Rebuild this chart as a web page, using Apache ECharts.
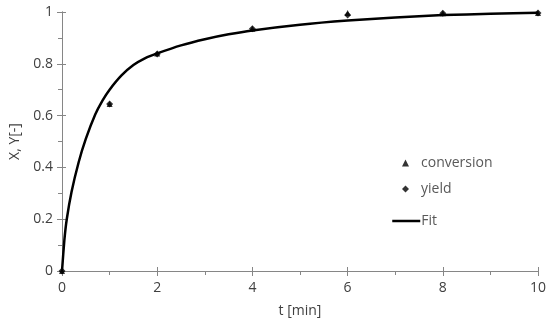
<!DOCTYPE html>
<html>
<head>
<meta charset="utf-8">
<script src="https://cdn.jsdelivr.net/npm/echarts@6/dist/echarts.min.js"></script>
<style>html,body{margin:0;padding:0;background:#fff}#c{width:550px;height:323px}</style>
</head>
<body>
<div id="c"></div>
<script>
const tData = [0, 1, 2, 4, 6, 8, 10];
const conversion = [0, 0.645, 0.84, 0.935, 0.996, 0.995, 0.996];
const yieldVals = [0, 0.645, 0.838, 0.935, 0.988, 0.995, 0.996];
const fitT = [0, 0.05, 0.1, 0.2, 0.35, 0.5, 0.7, 0.85, 1.0, 1.25, 1.5, 1.75, 2, 2.5, 3, 3.5, 4, 5, 6, 7, 8, 9, 10];
const fitY = [0, 0.12, 0.2, 0.305, 0.42, 0.51, 0.605, 0.658, 0.70, 0.755, 0.795, 0.822, 0.84, 0.871, 0.895, 0.914, 0.929, 0.951, 0.967, 0.979, 0.988, 0.993, 0.997];

const FONT = 'Open Sans';
const chart = echarts.init(document.getElementById('c'));
const axisLine = {show: true, lineStyle: {color: '#868686', width: 1}};
const xBase = {type: 'value', min: 0, max: 10, interval: 2, splitLine: {show: false}, axisLine: axisLine};
const yBase = {type: 'value', min: 0, max: 1, interval: 0.2, splitLine: {show: false}, axisLine: axisLine};
chart.setOption({
  animation: false,
  grid: {left: 62, right: 12, top: 12, bottom: 45},
  xAxis: [
    Object.assign({}, xBase, {
      name: 't [min]', nameLocation: 'middle', nameGap: 33,
      nameTextStyle: {fontFamily: FONT, fontSize: 14, color: '#404040'},
      axisTick: {show: true, length: 5, lineStyle: {color: '#868686'}},
      minorTick: {show: true, splitNumber: 2, length: 4, lineStyle: {color: '#868686'}},
      axisLabel: {fontFamily: FONT, fontSize: 14, color: '#404040', margin: 10}
    }),
    Object.assign({}, xBase, {
      position: 'bottom',
      axisTick: {show: true, inside: true, length: 4, lineStyle: {color: '#868686'}},
      axisLabel: {show: false}
    })
  ],
  yAxis: [
    Object.assign({}, yBase, {
      name: 'X, Y[-]', nameLocation: 'middle', nameGap: 38,
      nameTextStyle: {fontFamily: FONT, fontSize: 14, color: '#404040'},
      axisTick: {show: true, length: 5, lineStyle: {color: '#868686'}},
      minorTick: {show: true, splitNumber: 2, length: 4, lineStyle: {color: '#868686'}},
      axisLabel: {fontFamily: FONT, fontSize: 14, color: '#404040', margin: 9}
    }),
    Object.assign({}, yBase, {
      position: 'left',
      axisTick: {show: true, inside: true, length: 4, lineStyle: {color: '#868686'}},
      axisLabel: {show: false}
    })
  ],
  legend: [
    {
      data: ['conversion', 'yield'], orient: 'vertical', left: 397, top: 151,
      itemWidth: 7, itemHeight: 7, itemGap: 12,
      textStyle: {fontFamily: FONT, fontSize: 14, color: '#595959', padding: [0, 0, 0, 7]}
    },
    {
      data: ['Fit'], orient: 'vertical', left: 386, top: 209,
      itemWidth: 28, itemHeight: 14,
      itemStyle: {opacity: 0},
      lineStyle: {color: '#000', width: 2.5},
      textStyle: {fontFamily: FONT, fontSize: 14, color: '#595959', padding: [0, 0, 0, -4]}
    }
  ],
  series: [
    {
      name: 'Fit', type: 'line', smooth: 0.2, showSymbol: false, symbol: 'none',
      data: fitT.map((t, i) => [t, fitY[i]]),
      lineStyle: {color: '#000', width: 2.5}, itemStyle: {color: '#000'}, z: 2
    },
    {
      name: 'conversion', type: 'scatter', symbol: 'triangle', symbolSize: 6,
      data: tData.map((t, i) => [t, conversion[i]]),
      itemStyle: {color: '#000'}, z: 3
    },
    {
      name: 'yield', type: 'scatter', symbol: 'diamond', symbolSize: 7,
      data: tData.map((t, i) => [t, yieldVals[i]]),
      itemStyle: {color: '#000'}, z: 4
    }
  ]
});
</script>
</body>
</html>
